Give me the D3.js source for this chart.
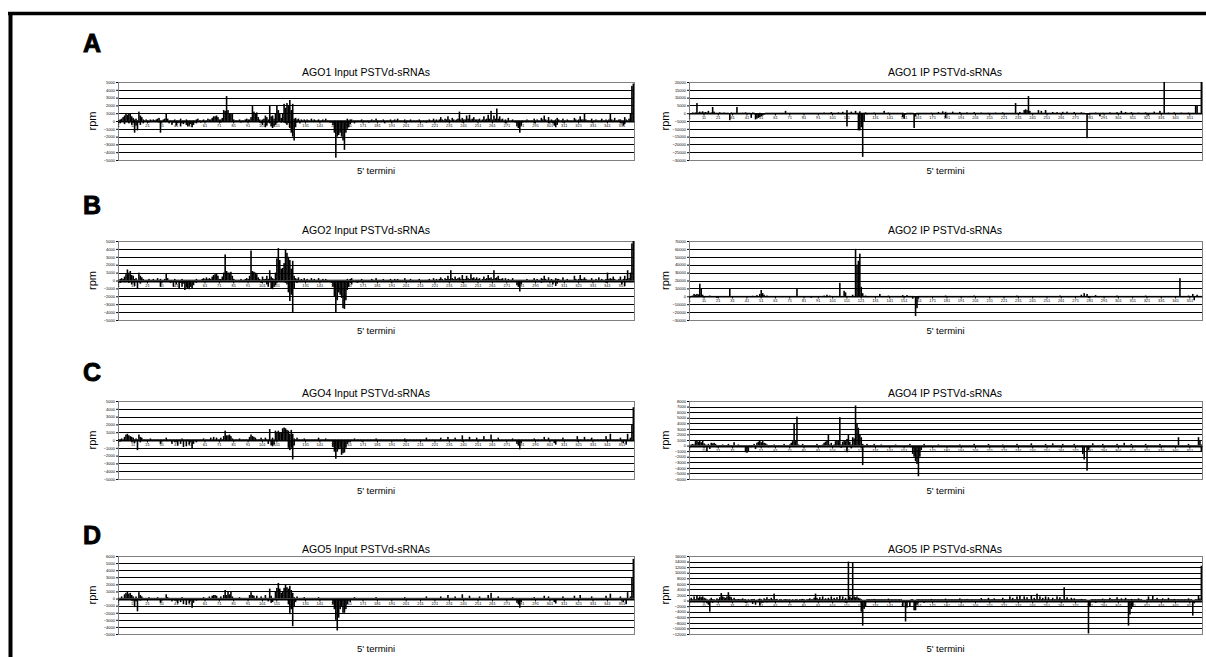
<!DOCTYPE html>
<html>
<head>
<meta charset="utf-8">
<script src="https://cdn.jsdelivr.net/npm/d3@7"></script>
<style>
  body { margin: 0; background: #fff; }
  text { font-family: "Liberation Sans", Arial, sans-serif; }
</style>
</head>
<body>
<div id="fig"></div>
<script>
// positions along PSTVd (5' termini) and the x tick labels
var positions = d3.range(1, 360);
var xTickLabels = [1,11,21,31,41,51,61,71,81,91,101,111,121,131,141,151,161,171,181,191,201,211,221,231,241,251,261,271,281,291,301,311,321,331,341,351];

// y tick values per panel
var ticksAgo1In = [-5000,-4000,-3000,-2000,-1000,0,1000,2000,3000,4000,5000];
var ticksAgo1Ip = [-30000,-25000,-20000,-15000,-10000,-5000,0,5000,10000,15000,20000];
var ticksAgo2In = [-5000,-4000,-3000,-2000,-1000,0,1000,2000,3000,4000,5000];
var ticksAgo2Ip = [-30000,-20000,-10000,0,10000,20000,30000,40000,50000,60000,70000];
var ticksAgo4In = [-5000,-4000,-3000,-2000,-1000,0,1000,2000,3000,4000,5000];
var ticksAgo4Ip = [-6000,-5000,-4000,-3000,-2000,-1000,0,1000,2000,3000,4000,5000,6000,7000,8000];
var ticksAgo5In = [-5000,-4000,-3000,-2000,-1000,0,1000,2000,3000,4000,5000,6000];
var ticksAgo5Ip = [-12000,-10000,-8000,-6000,-4000,-2000,0,2000,4000,6000,8000,10000,12000,14000,16000];

// rpm per position 1..359 (in hundreds of rpm unless noted); sense up, antisense down
var ago1InPos = [
1,2,3,5,7,10,8,10,9,6, 4,2,3,1,12,7,5,2,1,2, 1,1,2,1,2,1,2,3,4,1, 1,2,3,9,3,1,1,1,1,2,
1,1,1,3,1,1,1,2,1,1, 1,1,1,1,2,3,1,1,1,2, 1,1,3,2,2,4,6,6,7,5, 2,2,4,14,13,32,14,10,10,9,
2,1,1,1,2,1,1,1,2,3, 2,2,5,20,12,10,11,5,2,1, 2,3,7,5,2,20,6,7,3,10, 20,14,10,4,10,22,17,23,20,27,
14,22,3,4,2,3,1,2,1,2, 1,2,1,1,3,1,2,1,1,2, 1,1,2,1,3,1,1,1,1,1, 1,1,1,1,1,1,1,1,1,3,
1,2,2,1,1,1,1,1,1,2, 1,1,1,1,1,1,2,1,1,3, 1,1,1,1,2,1,1,1,1,2, 1,1,2,1,3,1,1,1,1,2,
1,1,1,2,1,1,1,1,1,2, 1,1,1,1,1,1,2,1,1,3, 1,2,1,2,5,2,1,3,2,6, 2,1,4,2,1,2,3,12,2,4,
2,2,7,3,8,2,3,5,2,2, 2,3,1,2,6,2,3,8,3,13, 2,7,3,16,3,6,2,3,1,2, 1,4,1,1,2,1,1,1,1,1,
1,1,1,1,2,1,1,1,1,3, 1,2,1,1,4,2,7,2,1,5, 1,2,1,1,2,4,2,1,1,3, 1,1,2,1,1,1,1,4,2,1,
2,6,2,2,9,2,1,1,1,3, 1,1,2,1,1,1,3,1,1,2, 1,2,10,2,1,4,1,1,2,2, 1,1,5,2,1,3,10,45,48];
var ago1InNeg = [
0,-3,-1,-1,-4,-1,-1,-3,-1,-5, -2,-15,-6,-12,-2,-5,-1,-3,-1,-1, -1,-2,-1,-1,-1,-1,-1,-1,-2,-15, -1,-1,-1,-1,-1,-3,-1,-5,-2,-2,
-6,-3,-2,-7,-3,-4,-2,-5,-7,-6, -4,-8,-5,-2,-3,-1,-1,-2,-1,-1, -1,-1,-1,-1,-1,-1,-1,-1,-1,-1, -1,-2,-1,-1,-1,-1,-1,-1,-1,-1,
-1,-1,-1,-1,-1,-2,-1,-1,-1,-1, -1,-1,-1,-1,-1,-1,-1,-1,-2,-3, -5,-2,-8,-6,-2,-3,-7,-9,-7,-5, -2,-1,-1,-2,-1,-2,-3,-5,-3,-9,
-15,-20,-25,-8,-2,-1,-3,-1,-1,-1, -1,-1,-1,-1,-1,-1,-1,-1,-1,-1, -1,-1,-1,-1,-1,-1,-1,-2,-2,-5, -15,-47,-20,-18,-15,-20,-25,-37,-15,-10,
-8,-4,-2,-1,-3,-1,-1,-1,-1,-1, -1,-1,-1,-1,-2,-1,-1,-1,-1,-1, -1,-1,-1,-1,-1,-3,-1,-1,-1,-1, -1,-1,-1,-1,-1,-1,-1,-1,-1,-2,
-1,-1,-1,-1,-1,-1,-1,-1,-1,-1, -1,-1,-1,-1,-2,-1,-1,-1,-1,-1, -1,-1,-1,-1,-1,-1,-1,-1,-1,-1, -1,-1,-1,-1,-1,-1,-1,-1,-1,-2,
-1,-1,-1,-1,-1,-1,-1,-1,-1,-1, -1,-1,-1,-1,-1,-1,-1,-1,-1,-1, -1,-1,-1,-1,-1,-1,-1,-1,-1,-3, -1,-1,-1,-1,-1,-1,-2,-7,-9,-15,
-6,-2,-1,-1,-1,-1,-1,-1,-1,-3, -1,-1,-1,-1,-1,-1,-1,-1,-1,-3, -1,-2,-3,-6,-8,-5,-1,-1,-1,-2, -1,-1,-1,-1,-1,-1,-1,-1,-1,-1,
-1,-1,-1,-1,-1,-1,-1,-1,-1,-2, -1,-1,-1,-1,-1,-1,-1,-1,-1,-1, -1,-1,-1,-1,-1,-1,-1,-1,-1,-3, -2,-6,-4,-1,-1,-1,-1,-1,-1];

// AGO1 IP in thousands of rpm
var ago1IpPos = [
0,0,.5,.3,.5,6.5,.5,1,.5,1.2, .5,.8,.5,1.5,.3,.5,4,1,.3,.3, .3,.6,.3,.3,.5,.3,.3,.3,0,.5, .3,.3,.3,4,.3,.3,.3,.4,.3,.6,
.3,.3,.3,0,.5,.3,0,0,0,.3, 0,0,0,.3,.3,.3,.3,.3,.3,.3, .3,.3,.3,.3,.3,.3,.3,1.5,.3,.3, .3,.3,.3,.3,.3,.3,.3,.3,.3,.3,
.3,.3,.3,.3,.3,.3,.3,.3,.3,.3, .3,.3,.3,.3,.5,.3,.3,.3,.3,.7, .3,.3,.3,.3,.6,.3,.3,.9,.3,.3, 2,.3,.3,1,.3,.3,1.5,.3,.3,1.2,
.3,.3,.3,.6,.3,.3,.3,.3,.3,.5, .3,.3,.3,.3,.3,.3,1.5,.3,.3,.5, .3,.3,.3,.3,.3,.3,.3,.3,.3,.4, 0,0,.3,.3,.3,.3,.3,0,0,.3,
.3,.3,.3,.3,.3,.3,.3,.3,.3,.4, .3,.3,.3,.3,.8,.3,.3,1.2,.3,.9, .3,.3,.3,.3,1,.3,.3,.3,.3,.8, .3,.3,.3,.3,.6,.3,.3,.3,.3,.7,
.3,.3,.3,.3,.5,.3,.3,.3,.3,.4, .3,.3,.3,.3,.5,.3,.3,.3,.3,.6, .3,.3,.3,.3,.3,.3,.3,.3,6.5,.3, .3,.8,.3,.3,2,2.5,2,11,1.5,.3,
.3,.3,.3,.3,2,.3,1.5,.3,.3,2, .3,.3,.3,.3,.8,.3,.3,.7,.3,.3, .3,.9,.3,.3,1,.3,.3,.3,.3,.8, .3,.3,.3,.3,.6,.3,.3,0,0,0,
.3,.3,.3,.3,.5,.3,.3,.3,.3,.4, .3,.3,.3,.3,.6,.3,.3,.3,.3,.7, .3,.3,1.5,.3,.3,.8,.3,.3,.3,.7, .3,.3,.3,.3,.5,.3,.3,.3,.3,.6,
.3,.3,.3,.3,.3,1,.3,.3,.3,1.5, .3,.3,20,.3,.3,.5,.3,.3,.3,.6, .3,.3,.3,.3,.5,.3,.3,.3,.3,.5, .3,.3,.3,.3,5,5,.3,.3,20];
var ago1IpNeg = [[20,-.5],[29,-4.5],[36,-.5],[44,-3],[47,-4],[48,-3.5],[49,-3],[50,-2.5],[51,-2],[52,-1.5],[53,-1],[60,-.3],[80,-.3],[90,-.3],[111,-8.5],[119,-11],[120,-11],[121,-9],[122,-28],[123,-5],[125,-.8],[150,-2.5],[151,-3.5],[152,-1],[158,-9.5],[159,-2],[180,-3],[200,-.4],[250,-.4],[279,-16],[280,-1],[288,-2],[310,-.4],[322,-1.5],[340,-.3]];

var ago2InPos = [
1,2,3,2,5,8,14,10,12,7, 6,2,3,1,10,6,4,2,1,1, 1,2,1,1,2,1,1,3,1,2, 1,1,2,9,3,1,1,1,1,2,
1,1,1,1,2,1,1,1,1,1, 1,1,1,1,2,1,1,1,2,3, 2,4,2,3,2,5,7,8,9,6, 2,2,5,10,33,12,10,10,11,6,
2,1,1,1,1,2,1,1,2,3, 2,6,38,12,11,10,8,4,2,1, 5,2,2,6,2,13,5,3,2,10, 28,41,26,15,16,22,40,35,30,26,
15,25,6,3,2,4,1,2,1,3, 1,2,1,1,3,1,2,1,1,3, 1,1,2,1,2,1,1,1,1,1, 1,1,1,1,1,1,1,1,1,2,
1,2,3,1,1,1,1,1,1,2, 1,1,1,1,1,1,2,1,1,3, 1,1,1,1,2,1,1,1,1,2, 1,1,2,1,2,1,1,1,1,3,
1,1,1,2,1,1,1,1,1,2, 1,1,1,1,1,1,2,1,1,3, 1,2,1,2,4,2,1,3,2,6, 2,13,3,2,5,2,3,4,2,7,
2,2,6,3,2,8,3,4,2,4, 2,3,1,2,5,2,3,7,3,4, 2,13,3,4,6,2,2,3,1,3, 1,2,1,1,3,1,1,1,1,1,
1,1,1,1,2,1,1,1,1,3, 1,2,1,1,3,2,6,2,1,4, 1,2,1,1,3,2,2,1,1,4, 1,1,2,1,1,1,1,6,2,1,
2,7,2,2,4,2,1,1,1,3, 1,1,2,1,4,1,2,1,1,2, 10,2,3,2,5,2,1,1,2,5, 1,2,6,2,13,3,10,47,50];
var ago2InNeg = [
0,-3,-1,-1,-2,-1,-1,-3,-1,-5, -2,-7,-2,-10,-2,-4,-1,-1,-1,-2, -1,-1,-1,-1,-1,-1,-1,-1,-2,-8, -1,-1,-1,-1,-1,-1,-3,-1,-8,-2,
-5,-2,-10,-3,-8,-4,-12,-9,-10,-11, -8,-10,-6,-2,-3,-1,-1,-1,-1,-2, -1,-1,-1,-1,-1,-1,-1,-1,-1,-1, -1,-1,-1,-1,-1,-1,-1,-1,-1,-1,
-1,-1,-1,-1,-1,-1,-1,-1,-1,-2, -1,-1,-1,-1,-1,-1,-1,-1,-1,-3, -1,-2,-1,-5,-8,-2,-10,-11,-8,-6, -2,-1,-1,-1,-1,-2,-3,-5,-15,-26,
-18,-40,-10,-2,-3,-1,-1,-1,-1,-1, -1,-1,-1,-1,-1,-1,-1,-1,-1,-1, -1,-1,-1,-1,-1,-1,-1,-2,-3,-8, -20,-40,-25,-15,-18,-22,-35,-36,-25,-12,
-8,-3,-5,-1,-1,-1,-3,-1,-1,-1, -1,-1,-1,-1,-2,-1,-1,-1,-1,-1, -1,-1,-1,-1,-1,-1,-1,-1,-1,-2, -1,-1,-1,-1,-1,-1,-1,-1,-1,-1,
-1,-1,-1,-1,-1,-1,-1,-1,-1,-2, -1,-1,-1,-1,-1,-1,-1,-1,-1,-1, -1,-1,-1,-1,-1,-1,-1,-1,-1,-1, -1,-1,-1,-1,-1,-1,-1,-1,-1,-3,
-1,-1,-1,-1,-1,-1,-1,-1,-1,-1, -1,-1,-1,-1,-1,-1,-1,-1,-1,-2, -1,-1,-1,-1,-1,-1,-1,-1,-1,-1, -1,-1,-1,-1,-1,-1,-2,-6,-8,-14,
-5,-1,-1,-1,-1,-1,-1,-1,-1,-1, -1,-1,-1,-1,-3,-1,-1,-1,-1,-1, -1,-1,-5,-2,-7,-4,-1,-1,-1,-1, -1,-1,-1,-1,-1,-1,-1,-1,-1,-2,
-1,-1,-1,-1,-1,-1,-1,-1,-1,-1, -1,-1,-1,-1,-1,-1,-1,-1,-1,-3, -1,-1,-1,-1,-1,-1,-1,-1,-1,-1, -5,-1,-7,-1,-1,-1,-1,-1,-1];

// AGO2 IP in thousands of rpm
var ago2IpPos = [
.5,.5,1,3,2,3,2.5,16,10,2, .5,.5,.5,.5,1,.5,.5,.5,.5,.5, .5,.5,.5,.5,.5,.5,.5,.5,10,.5, .5,.5,.5,.5,.5,.5,.5,.5,.5,.5,
.5,.5,.5,.5,.8,.5,.5,1.5,.5,3, 8,4,2,.5,1,.5,.5,.5,.5,.5, .5,.5,.5,.5,.5,.5,.5,.5,.5,.5, .5,.5,.5,.5,.5,10,.5,.5,.5,.5,
.5,.5,.5,.5,.5,.5,.5,.5,.5,.5, .5,.5,.5,.5,1,.5,2,.5,1,.5, .5,.5,.5,.5,.5,17,.5,.5,7,5, .5,.5,.5,.5,2,.5,60,40,45,54,
12,4,.5,1,.5,.5,.5,.5,.5,.5, .5,.5,.5,3,.5,.5,.5,.5,.5,1, .5,.5,.5,.5,.5,.5,.5,.5,.5,1.5, .5,.5,1.5,.5,.5,.5,.5,.5,0,0,
.5,.5,.5,.5,.5,.5,.5,.5,.5,.5, .5,.5,.5,.5,.5,.5,.5,.5,.5,1, .5,.5,.5,.5,.5,.5,.5,.5,.5,.5, .5,.5,.5,.5,.5,.5,.5,.5,.5,1,
.5,.5,.5,.5,.5,.5,.5,.5,.5,.5, .5,.5,.5,.5,.5,.5,.5,.5,.5,.5, .5,.5,.5,.5,.5,.5,.5,.5,.5,1, .5,.5,.5,.5,.5,.5,.5,.5,.5,.5,
.5,.5,.5,.5,.5,.5,.5,.5,.5,.5, .5,.5,.5,.5,.5,.5,.5,.5,.5,1, .5,.5,.5,.5,.5,.5,.5,.5,.5,.5, .5,.5,.5,.5,2,.5,4,.5,3,.5,
.5,.5,.5,.5,1.5,.5,.5,.5,.5,.5, .5,.5,.5,.5,.5,.5,.5,.5,.5,1, .5,.5,.5,.5,.5,.5,.5,.5,.5,.5, .5,.5,.5,.5,.5,.5,.5,.5,.5,1,
.5,.5,.5,.5,.5,.5,.5,.5,.5,.5, .5,.5,.5,.5,.5,.5,.5,.5,.5,.5, .5,.5,.5,23,.5,.5,.5,.5,.5,1, .5,.5,3,.5,.5,2,.5,.5,.5];
var ago2IpNeg = [[11,-1],[20,-2],[40,-.5],[86,-2],[125,-1],[157,-3],[159,-25],[160,-15],[161,-3],[180,-1],[250,-.5],[280,-2],[290,-1],[354,-5]];

var ago4InPos = [
1,1,2,1,4,7,8,6,5,4, 3,1,2,1,7,4,3,1,1,1, 1,1,2,1,1,1,1,1,1,1, 1,1,1,3,1,1,1,1,1,1,
1,1,1,1,2,1,1,1,1,1, 1,1,1,1,1,1,1,1,1,2, 1,1,1,1,3,1,4,1,3,1, 1,3,1,5,12,6,6,7,5,2,
1,1,1,1,2,1,1,1,1,1, 1,4,7,5,4,3,1,1,1,3, 1,1,3,1,1,14,1,3,1,12, 10,12,9,10,15,16,15,13,12,8,
13,8,2,1,3,1,1,1,1,2, 1,1,1,1,1,1,1,1,1,3, 1,1,1,1,2,1,1,1,1,1, 1,1,1,1,1,1,1,1,1,1,
1,1,1,1,2,1,1,1,1,1, 1,1,1,1,1,1,1,1,1,2, 1,1,1,1,1,1,1,1,1,1, 1,1,1,1,1,1,1,1,1,2,
1,1,1,1,1,1,1,1,1,1, 1,1,1,1,3,1,1,1,1,1, 1,1,1,1,3,1,1,1,1,4, 1,1,1,1,3,1,1,1,1,6,
1,1,1,1,4,1,1,1,1,3, 1,1,1,1,5,1,1,1,1,7, 1,1,1,1,3,1,1,1,1,1, 1,1,1,1,2,1,1,1,1,1,
1,1,1,1,1,1,1,1,1,2, 1,1,1,1,1,1,4,1,1,3, 1,1,1,1,1,1,1,1,1,3, 1,1,1,1,1,1,1,1,1,5,
1,1,1,1,4,1,1,1,1,3, 1,1,1,1,1,1,1,1,1,5, 1,1,8,1,1,1,1,1,1,3, 1,1,1,1,8,1,3,20,42];
var ago4InNeg = [
0,-2,-1,-1,-1,-1,-1,-1,-1,-3, -1,-4,-1,-13,-1,-3,-1,-1,-1,-1, -1,-1,-1,-1,-1,-1,-1,-1,-1,-5, -1,-1,-1,-1,-1,-1,-1,-5,-1,-3,
-1,-7,-1,-5,-1,-9,-1,-8,-1,-6, -1,-11,-5,-1,-3,-1,-1,-1,-1,-1, -1,-1,-1,-1,-1,-1,-1,-1,-1,-1, -1,-1,-1,-1,-1,-1,-1,-1,-1,-1,
-1,-1,-1,-1,-1,-1,-1,-1,-1,-1, -1,-1,-1,-1,-1,-1,-1,-1,-1,-1, -1,-1,-1,-1,-5,-1,-7,-8,-6,-1, -1,-1,-1,-1,-1,-1,-1,-1,-10,-13,
-10,-25,-7,-1,-1,-1,-1,-1,-1,-1, -1,-1,-1,-1,-1,-1,-1,-1,-1,-1, -1,-1,-1,-1,-1,-1,-1,-1,-1,-9, -15,-24,-15,-12,-10,-19,-17,-16,-10,-5,
-1,-3,-1,-1,-1,-1,-1,-1,-1,-2, -1,-1,-1,-1,-1,-1,-1,-1,-1,-1, -1,-1,-1,-1,-1,-1,-1,-1,-1,-1, -1,-1,-1,-1,-1,-1,-1,-1,-1,-2,
-1,-1,-1,-1,-1,-1,-1,-1,-1,-1, -1,-1,-1,-1,-1,-1,-1,-1,-1,-1, -1,-1,-1,-1,-1,-1,-1,-1,-1,-1, -1,-1,-1,-1,-1,-1,-1,-1,-1,-2,
-1,-1,-1,-1,-1,-1,-1,-1,-1,-1, -1,-1,-1,-1,-1,-1,-1,-1,-1,-1, -1,-1,-1,-1,-1,-1,-1,-1,-1,-1, -1,-1,-1,-1,-1,-1,-1,-5,-7,-12,
-4,-1,-1,-1,-1,-1,-1,-1,-1,-1, -1,-1,-1,-1,-1,-1,-1,-1,-1,-1, -1,-1,-1,-4,-6,-1,-1,-1,-1,-1, -1,-1,-1,-1,-1,-1,-1,-1,-1,-2,
-1,-1,-1,-1,-1,-1,-1,-1,-1,-1, -1,-1,-1,-1,-1,-1,-1,-1,-1,-1, -1,-1,-1,-1,-1,-1,-1,-1,-1,-1, -1,-4,-1,-6,-1,-1,-1,-1,-1];

var ago4IpPos = [
1,2,3,2,8,10,7,10,6,10, 4,2,1,3,1,5,4,5,3,1, 1,1,1,2,1,1,1,3,1,1, 1,6,1,1,2,1,1,1,1,1,
1,1,1,1,1,3,1,5,7,9, 6,8,5,4,2,1,1,1,1,2, 1,1,1,1,1,1,3,1,1,1, 2,5,8,40,10,52,2,1,1,3,
1,1,1,1,1,1,1,1,1,3, 1,1,1,2,5,7,10,20,2,5, 1,2,8,10,8,51,2,7,10,8, 12,20,7,2,15,13,72,40,32,20,
15,3,1,1,3,1,1,1,1,3, 1,1,1,1,2,1,1,1,1,1, 1,1,1,1,2,1,1,1,1,1, 1,1,1,1,3,1,1,1,1,1,
1,1,1,1,3,1,1,1,1,1, 1,1,1,1,2,1,1,1,1,1, 1,1,1,1,1,1,1,1,1,2, 1,1,1,1,1,1,1,1,1,3,
1,1,1,1,1,1,1,1,1,3, 1,1,1,1,1,1,1,1,1,2, 1,1,1,1,1,1,1,1,1,3, 1,1,1,1,1,1,1,1,1,4,
1,1,1,1,1,1,1,1,1,3, 1,1,1,1,4,1,1,1,1,1, 1,3,1,1,1,1,1,1,1,3, 1,1,1,1,1,1,1,1,1,1,
1,1,4,1,1,1,1,1,1,3, 1,1,1,1,1,1,1,1,1,3, 1,1,1,1,5,1,1,1,1,3, 1,1,1,1,1,1,1,1,1,3,
1,1,1,1,1,1,1,1,1,3, 1,1,1,1,1,1,1,1,1,1, 1,1,15,1,1,1,1,1,1,3, 1,1,1,1,1,1,15,10,2];
var ago4IpNeg = [
0,-2,-1,-1,-1,-1,-1,-1,-1,-1, -1,-1,-10,-1,-6,-1,-1,-1,-1,-3, -1,-1,-1,-1,-1,-1,-1,-1,-1,-1, -1,-1,-1,-1,-1,-1,-1,-1,-1,-12,
-13,-10,-1,-3,-1,-1,-6,-1,-1,-1, -1,-1,-1,-1,-1,-3,-1,-1,-1,-1, -1,-1,-1,-1,-1,-1,-1,-1,-1,-2, -1,-1,-1,-1,-1,-1,-1,-1,-1,-1,
-1,-1,-1,-1,-1,-1,-1,-1,-1,-1, -1,-1,-1,-1,-1,-1,-1,-1,-1,-2, -1,-1,-1,-1,-1,-1,-4,-1,-1,-1, -12,-1,-1,-5,-1,-1,-1,-1,-1,-1,
-1,-35,-3,-1,-1,-1,-1,-1,-1,-1, -1,-1,-1,-1,-1,-1,-1,-1,-1,-2, -1,-1,-1,-1,-1,-1,-1,-1,-1,-1, -1,-1,-1,-1,-1,-3,-15,-20,-28,-33,
-55,-20,-8,-1,-3,-1,-1,-1,-1,-1, -1,-1,-1,-1,-1,-1,-1,-1,-1,-1, -1,-1,-1,-1,-1,-1,-1,-1,-1,-1, -1,-1,-1,-1,-1,-1,-1,-1,-1,-2,
-1,-1,-1,-1,-1,-1,-1,-1,-1,-1, -1,-1,-1,-1,-1,-1,-1,-1,-1,-1, -1,-1,-1,-1,-1,-1,-1,-1,-1,-1, -1,-1,-1,-1,-1,-1,-1,-1,-1,-1,
-1,-1,-1,-1,-1,-1,-1,-1,-1,-2, -1,-1,-1,-1,-1,-1,-1,-1,-1,-1, -1,-1,-1,-1,-1,-1,-1,-1,-1,-1, -1,-1,-1,-1,-1,-15,-25,-1,-45,-8,
-1,-1,-1,-1,-1,-1,-1,-1,-1,-1, -1,-1,-1,-1,-1,-1,-1,-1,-1,-2, -1,-1,-1,-1,-1,-1,-1,-1,-1,-1, -1,-1,-1,-1,-1,-1,-1,-1,-1,-1,
-1,-1,-1,-1,-1,-1,-1,-1,-1,-3, -1,-1,-1,-1,-1,-1,-1,-1,-1,-1, -1,-1,-1,-1,-1,-1,-1,-1,-1,-1, -1,-1,-1,-1,-1,-1,-1,-1,-10];

var ago5InPos = [
1,1,3,1,6,8,10,7,8,5, 3,1,3,1,9,5,3,1,1,1, 1,2,1,1,1,1,1,2,1,1, 1,1,1,6,2,1,1,1,1,1,
1,1,1,1,2,1,1,1,1,1, 1,1,1,1,1,1,1,1,1,2, 1,1,1,3,1,4,5,5,4,1, 1,3,1,5,12,5,10,6,10,3,
1,1,1,1,2,1,1,1,1,1, 1,5,9,5,4,1,4,1,1,3, 1,1,5,1,1,14,4,1,1,10, 15,22,14,8,10,15,20,16,14,18,
12,8,2,1,3,1,1,1,1,2, 1,1,1,1,1,1,1,1,1,2, 1,1,1,1,1,1,1,1,1,1, 1,1,1,1,1,1,1,1,1,1,
1,1,1,1,2,1,1,1,1,1, 1,1,1,1,1,1,1,1,1,2, 1,1,1,1,1,1,1,1,1,1, 1,1,1,1,1,1,1,1,1,2,
1,1,1,1,1,1,1,1,1,1, 1,1,1,1,3,1,1,1,1,1, 1,1,1,1,3,1,1,1,1,5, 1,1,1,1,3,1,1,1,1,6,
1,1,1,1,4,1,1,1,1,1, 1,3,1,1,1,1,1,5,1,8, 1,1,1,1,3,1,1,1,1,1, 1,1,1,1,2,1,1,1,1,1,
1,1,1,1,1,1,1,1,1,2, 1,1,1,1,1,1,4,1,1,3, 1,1,1,1,1,1,1,1,1,3, 1,1,1,1,1,1,1,4,1,1,
1,5,1,1,1,1,1,1,1,3, 1,1,1,1,1,1,1,1,1,4, 1,1,7,1,1,1,1,1,1,3, 1,1,1,1,9,1,3,30,56];
var ago5InNeg = [
0,-2,-1,-1,-1,-1,-1,-1,-1,-3, -1,-12,-4,-18,-1,-3,-1,-1,-1,-1, -1,-1,-1,-1,-1,-1,-1,-1,-1,-6, -1,-1,-1,-1,-1,-1,-1,-4,-1,-3,
-1,-7,-1,-5,-1,-8,-1,-9,-1,-7, -1,-13,-6,-1,-3,-1,-1,-1,-1,-1, -1,-1,-1,-1,-1,-1,-1,-1,-1,-1, -1,-1,-1,-1,-1,-1,-1,-1,-1,-1,
-1,-1,-1,-1,-1,-1,-1,-1,-1,-1, -1,-1,-1,-1,-1,-1,-1,-1,-1,-1, -1,-1,-1,-1,-4,-1,-6,-5,-1,-1, -1,-1,-1,-1,-1,-1,-1,-1,-8,-22,
-15,-39,-12,-5,-1,-1,-1,-1,-1,-1, -1,-1,-1,-1,-1,-1,-1,-1,-1,-1, -1,-1,-1,-1,-1,-1,-1,-1,-1,-8, -15,-30,-45,-27,-15,-12,-20,-20,-15,-8,
-1,-5,-1,-1,-1,-1,-1,-1,-1,-2, -1,-1,-1,-1,-1,-1,-1,-1,-1,-1, -1,-1,-1,-1,-1,-1,-1,-1,-1,-1, -1,-1,-1,-1,-1,-1,-1,-1,-1,-2,
-1,-1,-1,-1,-1,-1,-1,-1,-1,-1, -1,-1,-1,-1,-1,-1,-1,-1,-1,-1, -1,-1,-1,-1,-1,-1,-1,-1,-1,-1, -1,-1,-1,-1,-1,-1,-1,-1,-1,-2,
-1,-1,-1,-1,-1,-1,-1,-1,-1,-1, -1,-1,-1,-1,-1,-1,-1,-1,-1,-1, -1,-1,-1,-1,-1,-1,-1,-1,-1,-1, -1,-1,-1,-1,-1,-1,-1,-6,-8,-13,
-5,-1,-1,-1,-1,-1,-1,-1,-1,-1, -1,-1,-1,-1,-1,-1,-1,-1,-1,-1, -1,-1,-1,-5,-7,-1,-1,-1,-1,-1, -1,-1,-1,-1,-1,-1,-1,-1,-1,-2,
-1,-1,-1,-1,-1,-1,-1,-1,-1,-1, -1,-1,-1,-1,-1,-1,-1,-1,-1,-1, -1,-1,-1,-1,-1,-1,-1,-1,-1,-1, -1,-5,-1,-8,-1,-1,-1,-1,-1];

var ago5IpPos = [
5,10,5,15,5,20,10,15,12,15, 10,8,5,3,5,10,5,5,3,8, 5,12,27,15,12,10,15,30,15,12, 5,10,5,5,6,5,5,8,5,5,
3,5,3,5,5,6,3,3,5,7, 5,3,8,5,12,5,5,10,5,25, 5,6,3,5,5,3,5,5,5,4, 5,3,5,3,5,5,3,5,5,6,
5,3,5,5,8,5,5,10,25,10, 5,12,5,15,5,8,5,10,5,15, 5,10,5,12,5,20,5,15,5,10, 5,140,15,10,135,15,12,15,10,8,
5,3,3,3,5,5,5,5,5,6, 5,5,5,5,5,5,5,5,5,7, 5,5,5,5,5,5,5,5,5,3, 3,3,3,3,3,5,5,3,3,5,
5,5,5,5,5,5,5,5,5,6, 5,5,5,5,5,5,5,5,5,7, 5,5,5,5,5,5,5,5,5,8, 5,5,5,5,6,5,5,5,5,5,
5,5,5,5,9,5,5,5,5,10, 5,5,5,8,5,5,5,5,5,10, 5,5,5,5,15,5,10,5,5,15, 5,20,5,5,15,5,12,5,5,20,
5,10,5,25,5,15,5,10,5,15, 5,12,5,5,10,5,5,15,5,12, 5,5,48,5,12,5,5,10,5,8, 5,5,5,5,6,5,5,5,3,3,
3,5,5,5,5,5,5,5,5,7, 5,5,5,5,10,5,5,5,5,12, 5,5,8,5,5,10,5,5,5,6, 5,5,5,5,8,5,5,3,3,3,
5,15,5,5,20,5,5,10,5,5, 5,8,5,5,5,10,5,5,5,6, 5,5,5,5,5,5,5,5,5,8, 5,5,3,3,5,5,20,8,125];
var ago5IpNeg = [
-3,-3,-3,-3,-3,-3,-3,-3,-3,-3, -3,-3,-10,-15,-40,-3,-8,-3,-3,-3, -3,-3,-3,-3,-3,-3,-3,-3,-3,-6, -3,-3,-3,-3,-3,-3,-3,-3,-3,-8,
-3,-3,-3,-3,-12,-3,-15,-3,-3,-18, -3,-8,-3,-3,-6,-3,-3,-3,-3,-3, -3,-3,-3,-3,-3,-3,-3,-3,-3,-5, -3,-3,-3,-3,-3,-3,-3,-3,-3,-3,
-3,-3,-3,-3,-3,-3,-3,-3,-3,-3, -3,-3,-3,-3,-3,-3,-3,-3,-3,-4, -3,-3,-3,-3,-3,-3,-3,-3,-3,-8, -3,-3,-3,-3,-3,-3,-3,-3,-3,-3,
-40,-90,-30,-20,-3,-3,-3,-3,-3,-5, -3,-3,-3,-3,-3,-3,-3,-3,-3,-4, -3,-3,-3,-3,-3,-3,-3,-3,-3,-20, -3,-75,-25,-3,-20,-3,-3,-35,-35,-15,
-3,-3,-3,-3,-8,-3,-3,-3,-3,-5, -3,-3,-3,-3,-3,-3,-3,-3,-3,-3, -3,-3,-3,-3,-3,-3,-3,-3,-3,-3, -3,-3,-3,-3,-3,-3,-3,-3,-3,-4,
-3,-3,-3,-3,-3,-3,-3,-3,-3,-3, -3,-3,-3,-3,-3,-3,-3,-3,-3,-3, -3,-3,-3,-3,-3,-3,-3,-3,-3,-3, -3,-3,-3,-3,-3,-3,-3,-3,-3,-3,
-3,-3,-3,-3,-3,-3,-3,-3,-3,-5, -3,-3,-3,-3,-3,-3,-3,-3,-3,-3, -3,-3,-3,-3,-3,-3,-3,-3,-3,-3, -3,-3,-3,-3,-3,-3,-3,-3,-3,-118,
-20,-3,-3,-3,-8,-3,-3,-3,-3,-3, -3,-3,-3,-3,-3,-3,-3,-3,-3,-5, -3,-3,-3,-3,-3,-3,-3,-90,-50,-30, -20,-3,-3,-3,-3,-3,-3,-3,-3,-4,
-3,-3,-3,-3,-3,-3,-3,-3,-3,-3, -3,-3,-3,-3,-3,-3,-3,-3,-3,-3, -3,-3,-3,-3,-3,-3,-3,-3,-3,-3, -3,-3,-54,-10,-3,-3,-3,-3,-3];

// a series is either a full list for positions 1..359 or [position, value] pairs
function toBars(series, unit) {
  if (Array.isArray(series[0])) return series.map(function (d) { return [d[0], d[1] * unit]; });
  return series.map(function (v, i) { return [i + 1, v * unit]; });
}

var W = 1206, H = 657;
var svg = d3.select("#fig").append("svg")
  .attr("width", W)
  .attr("height", H);

svg.append("rect").attr("width", W).attr("height", H).attr("fill", "#fff");

// outer frame (top and left edges visible)
svg.append("line").attr("x1", 8).attr("x2", W).attr("y1", 13.5).attr("y2", 13.5)
  .attr("stroke", "#000").attr("stroke-width", 3.5);
svg.append("line").attr("x1", 10.5).attr("x2", 10.5).attr("y1", 12).attr("y2", H)
  .attr("stroke", "#000").attr("stroke-width", 4);

// row layout
var rows = [
  { letter: "A", letterY: 52,  titleY: 76,  top: 82,  bottom: 160, xlabY: 174 },
  { letter: "B", letterY: 214, titleY: 234, top: 241, bottom: 320, xlabY: 334 },
  { letter: "C", letterY: 381, titleY: 397, top: 401, bottom: 479, xlabY: 494 },
  { letter: "D", letterY: 544, titleY: 553, top: 556, bottom: 634, xlabY: 652 }
];

var panels = [
  { row: 0, side: 0, title: "AGO1 Input PSTVd-sRNAs", ticks: ticksAgo1In, pos: ago1InPos, neg: ago1InNeg, unit: 100 },
  { row: 0, side: 1, title: "AGO1 IP PSTVd-sRNAs",    ticks: ticksAgo1Ip, pos: ago1IpPos, neg: ago1IpNeg, unit: 1000 },
  { row: 1, side: 0, title: "AGO2 Input PSTVd-sRNAs", ticks: ticksAgo2In, pos: ago2InPos, neg: ago2InNeg, unit: 100 },
  { row: 1, side: 1, title: "AGO2 IP PSTVd-sRNAs",    ticks: ticksAgo2Ip, pos: ago2IpPos, neg: ago2IpNeg, unit: 1000 },
  { row: 2, side: 0, title: "AGO4 Input PSTVd-sRNAs", ticks: ticksAgo4In, pos: ago4InPos, neg: ago4InNeg, unit: 100 },
  { row: 2, side: 1, title: "AGO4 IP PSTVd-sRNAs",    ticks: ticksAgo4Ip, pos: ago4IpPos, neg: ago4IpNeg, unit: 100 },
  { row: 3, side: 0, title: "AGO5 Input PSTVd-sRNAs", ticks: ticksAgo5In, pos: ago5InPos, neg: ago5InNeg, unit: 100 },
  { row: 3, side: 1, title: "AGO5 IP PSTVd-sRNAs",    ticks: ticksAgo5Ip, pos: ago5IpPos, neg: ago5IpNeg, unit: 100 }
];

var sides = [
  { x0: 118, x1: 634, titleX: 366, rpmX: 96 },
  { x0: 689, x1: 1202, titleX: 945, rpmX: 669 }
];

rows.forEach(function (r) {
  svg.append("text").attr("x", 83).attr("y", r.letterY)
    .attr("font-size", 25).attr("font-weight", "bold")
    .attr("stroke", "#000").attr("stroke-width", 0.9)
    .text(r.letter);
});

panels.forEach(function (p) {
  var r = rows[p.row], s = sides[p.side];
  var g = svg.append("g");

  var xScale = d3.scaleBand().domain(positions).range([s.x0, s.x1]);
  var yScale = d3.scaleLinear()
    .domain([p.ticks[0], p.ticks[p.ticks.length - 1]])
    .range([r.bottom, r.top]);

  // title / axis titles
  g.append("text").attr("x", s.titleX).attr("y", r.titleY)
    .attr("text-anchor", "middle").attr("font-size", 10.5).text(p.title);
  g.append("text").attr("x", (s.x0 + s.x1) / 2).attr("y", r.xlabY)
    .attr("text-anchor", "middle").attr("font-size", 9.5).text("5' termini");
  g.append("text")
    .attr("transform", "translate(" + s.rpmX + "," + ((r.top + r.bottom) / 2) + ") rotate(-90)")
    .attr("text-anchor", "middle").attr("font-size", 11).text("rpm");

  // gridlines
  g.selectAll("line.grid").data(p.ticks).join("line")
    .attr("class", "grid")
    .attr("x1", s.x0).attr("x2", s.x1)
    .attr("y1", function (d) { return Math.round(yScale(d)) + 0.5; })
    .attr("y2", function (d) { return Math.round(yScale(d)) + 0.5; })
    .attr("stroke", "#000").attr("stroke-width", 1);

  g.append("rect")
    .attr("x", s.x0 + 0.5).attr("y", Math.round(r.top) + 0.5)
    .attr("width", s.x1 - s.x0).attr("height", Math.round(r.bottom) - Math.round(r.top))
    .attr("fill", "none").attr("stroke", "#808080").attr("stroke-width", 1);

  // bars
  var bars = toBars(p.pos, p.unit).concat(toBars(p.neg, p.unit)).filter(function (d) { return d[1] !== 0; });
  var bw = xScale.bandwidth() + 0.15;
  g.selectAll("rect.bar").data(bars).join("rect")
    .attr("class", "bar")
    .attr("x", function (d) { return xScale(d[0]); })
    .attr("width", bw)
    .attr("y", function (d) { return yScale(Math.max(0, d[1])); })
    .attr("height", function (d) { return Math.abs(yScale(d[1]) - yScale(0)); })
    .attr("fill", "#000");

  // x axis on the zero line
  var xAxis = d3.axisBottom(xScale).tickValues(xTickLabels).tickSize(2).tickSizeOuter(0).tickPadding(1);
  var xg = g.append("g").attr("transform", "translate(0," + (Math.round(yScale(0)) + 0.5) + ")").call(xAxis);
  xg.select(".domain").attr("stroke", "#000");
  xg.selectAll("text").attr("font-size", 4).attr("fill", "#000");

  // y axis labels
  var yAxis = d3.axisLeft(yScale).tickValues(p.ticks).tickSize(2).tickPadding(1).tickFormat(d3.format("d"));
  var yg = g.append("g").attr("transform", "translate(" + s.x0 + ",0)").call(yAxis);
  yg.select(".domain").remove();
  yg.selectAll("text").attr("font-size", 4).attr("fill", "#000");
});
</script>
</body>
</html>
